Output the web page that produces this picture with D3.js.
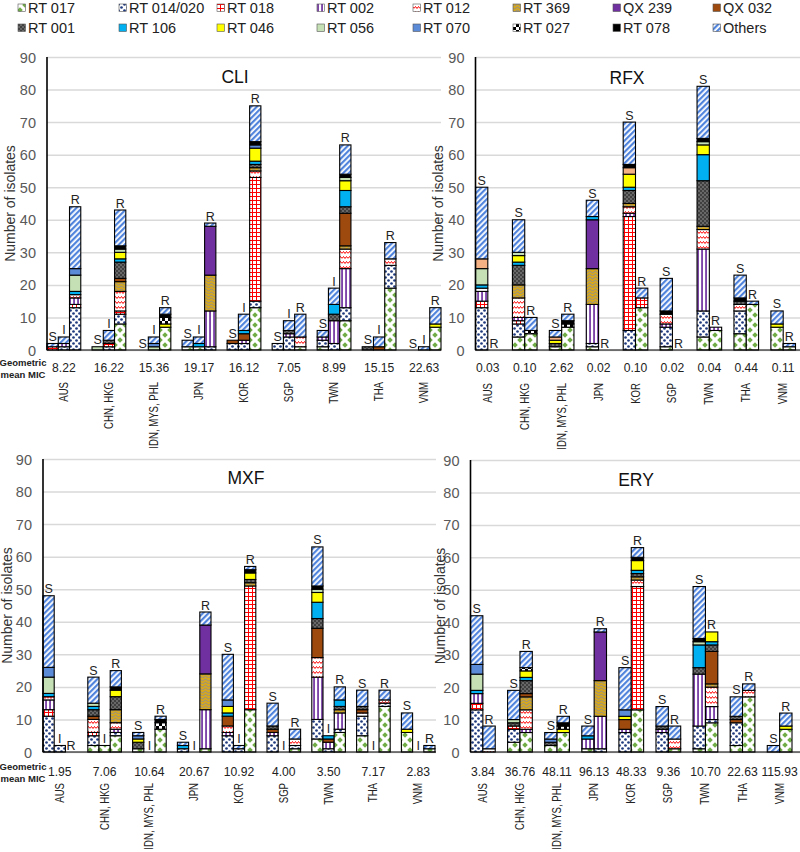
<!DOCTYPE html>
<html><head><meta charset="utf-8">
<script src="https://cdn.jsdelivr.net/npm/d3@7"></script>
<style>body{margin:0;background:#fff}svg{display:block;font-family:"Liberation Sans",Arial,sans-serif}</style>
</head><body><svg id="c" width="800" height="852"></svg>
<script>
// ---------- DATA ----------
const SERIES = ["RT 017","RT 014/020","RT 018","RT 002","RT 012","RT 369","QX 239","QX 032",
                "RT 001","RT 106","RT 046","RT 056","RT 070","RT 027","RT 078","Others"];
const COUNTRIES = ["AUS","CHN, HKG","IDN, MYS, PHL","JPN","KOR","SGP","TWN","THA","VNM"];
const Y_TICKS = [0,10,20,30,40,50,60,70,80,90];

const MIC_CLI = ["8.22","16.22","15.36","19.17","16.12","7.05","8.99","15.15","22.63"];
const MIC_RFX = ["0.03","0.10","2.62","0.02","0.10","0.02","0.04","0.44","0.11"];
const MIC_MXF = ["1.95","7.06","10.64","20.67","10.92","4.00","3.50","7.17","2.83"];
const MIC_ERY = ["3.84","36.76","48.11","96.13","48.33","9.36","10.70","22.63","115.93"];

// columns: 017 014 018 002 012 369 239 032 001 106 046 056 070 027 078 Others
const CLI_S = [
 [0,0,1,0,0,0,0,0,0,0,0,0,0,0,0,1],
 [0,0,0,0,0,0,0,0,0,0,0,1,0,0,0,0],
 [0,0,0,0,0,0,0,0,0,0,0,0,0,0,0,0],
 [1,0,0,0,0,0,0,0,0,0,0,0,0,0,0,2],
 [0,2,0,0,0,0,0,1,0,0,0,0,0,0,0,0],
 [0,2,0,0,0,0,0,0,0,0,0,0,0,0,0,0],
 [1,2,0,1,0,0,0,0,0,0,0,0,0,0,0,2],
 [0,0,0,0,0,0,0,0,1,0,0,0,0,0,0,0],
 [0,0,0,0,0,0,0,0,0,0,0,0,0,0,0,0]];
const CLI_I = [
 [0,1,0,1,0,0,0,0,0,0,0,0,0,0,0,2],
 [0,1,1,0,0,0,0,0,1,0,0,0,0,0,0,3],
 [0,0,0,0,0,0,0,0,0,0,0,1,1,0,0,2],
 [1,0,0,0,0,0,0,0,0,1,0,0,0,0,0,2],
 [0,2,0,1,0,0,0,2,0,1,0,0,0,0,0,5],
 [0,4,0,1,0,0,0,0,1,0,0,0,0,0,0,3],
 [0,2,0,7,0,0,0,0,2,3,0,0,0,0,0,5],
 [0,0,0,0,0,0,0,1,0,0,0,0,0,0,0,3],
 [0,0,0,0,0,0,0,0,0,0,0,0,0,0,0,1]];
const CLI_R = [
 [0,13,1,2,1,0,0,0,0,1,0,5,2,0,0,19],
 [8,3,1,0,6,3,0,1,5,1,2,1,0,0,1,11],
 [7,0,0,0,0,0,0,0,0,0,1,0,0,2,1,2],
 [0,1,0,11,0,11,15,0,0,0,0,0,0,0,0,1],
 [13,2,38,0,2,1,0,0,1,1,4,0,1,0,1,11],
 [1,0,0,0,3,0,0,0,0,0,0,0,0,0,0,7],
 [9,4,0,12,6,1,0,10,2,5,3,1,0,0,1,9],
 [19,7,0,0,2,0,0,0,0,0,0,0,0,0,0,5],
 [7,0,0,0,0,0,0,0,0,0,1,0,0,0,0,5]];

const RFX_S = [
 [0,13,2,3,1,0,0,0,0,1,0,5,3,0,0,22],
 [4,4,1,1,6,4,0,0,6,1,2,1,0,0,0,10],
 [1,0,0,0,0,0,0,0,1,0,1,0,1,0,0,2],
 [1,1,0,12,0,11,15,0,0,1,0,0,0,0,0,5],
 [0,6,35,1,2,1,0,0,4,1,4,0,2,0,1,13],
 [1,6,0,1,3,0,0,0,0,0,0,0,0,0,1,10],
 [4,8,0,19,6,1,0,0,14,8,3,1,0,0,1,16],
 [5,7,0,0,2,0,0,0,1,0,0,0,0,0,1,7],
 [7,0,0,0,0,0,0,0,0,0,1,0,0,0,0,4]];
const RFX_R = [
 [0,0,0,0,0,0,0,0,0,0,0,0,0,0,0,0],
 [5,0,0,0,0,0,0,0,0,0,0,0,0,1,0,4],
 [7,0,0,0,0,0,0,0,0,0,0,0,0,1,1,2],
 [0,0,0,0,0,0,0,0,0,0,0,0,0,0,0,0],
 [13,0,3,0,0,0,0,0,0,0,0,0,0,0,0,3],
 [0,0,0,0,0,0,0,0,0,0,0,0,0,0,0,0],
 [6,0,0,1,0,0,0,0,0,0,0,0,0,0,0,0],
 [14,0,0,0,0,0,0,0,0,0,0,0,0,0,0,1],
 [1,0,0,0,0,0,0,0,0,0,0,0,0,0,0,1]];

const MXF_S = [
 [0,11,2,3,1,0,0,0,0,1,0,5,3,0,0,22],
 [2,3,1,0,4,0,0,1,2,1,0,1,0,0,0,8],
 [1,0,0,0,0,0,0,0,2,0,1,0,1,0,0,1],
 [0,1,0,0,0,0,0,0,0,1,0,0,0,0,0,1],
 [0,5,0,1,2,0,0,3,0,1,2,0,2,0,0,14],
 [0,5,0,1,0,0,0,1,1,0,0,0,0,0,0,7],
 [4,6,0,13,6,0,0,9,3,5,3,1,0,0,1,12],
 [5,6,0,0,1,0,0,1,1,0,0,0,0,0,0,5],
 [6,0,0,0,0,0,0,0,0,0,1,0,0,0,0,5]];
const MXF_I = [
 [0,2,0,0,0,0,0,0,0,0,0,0,0,0,0,0],
 [2,0,0,0,0,0,0,0,0,0,0,0,0,0,0,0],
 [0,0,0,0,0,0,0,0,0,0,0,0,0,0,0,0],
 [0,0,0,0,0,0,0,0,0,0,0,0,0,0,0,0],
 [0,1,0,0,0,0,0,0,0,0,0,0,0,0,0,1],
 [0,0,0,0,0,0,0,0,0,0,0,0,0,0,0,0],
 [0,1,0,2,0,0,0,1,0,1,0,0,0,0,0,0],
 [0,0,0,0,0,0,0,0,0,0,0,0,0,0,0,0],
 [0,0,0,0,0,0,0,0,0,0,0,0,0,0,0,0]];
const MXF_R = [
 [0,0,0,0,0,0,0,0,0,0,0,0,0,0,0,0],
 [5,1,0,1,2,4,0,0,4,0,2,0,0,0,1,5],
 [7,0,0,0,0,0,0,0,0,0,0,0,0,2,1,1],
 [1,0,0,12,0,11,15,0,0,0,0,0,0,0,0,4],
 [13,0,38,0,0,1,0,0,1,0,2,0,0,0,1,1],
 [1,1,0,0,2,0,0,0,0,0,0,0,0,0,0,3],
 [6,1,0,5,0,1,0,0,1,2,0,0,0,0,0,4],
 [14,1,0,0,1,0,0,0,0,0,0,0,0,0,0,3],
 [1,0,0,0,0,0,0,0,0,0,0,0,0,0,0,1]];

const ERY_S = [
 [0,13,2,3,0,0,0,0,0,1,0,5,3,0,0,15],
 [3,4,1,0,0,0,0,0,1,0,0,1,0,0,0,9],
 [2,0,0,0,0,0,0,0,1,0,0,0,1,0,0,2],
 [1,0,0,3,0,0,0,0,0,1,0,0,0,0,0,3],
 [0,6,0,1,0,0,0,3,0,0,1,0,2,0,0,13],
 [0,6,0,1,0,0,0,0,1,0,0,0,0,0,0,6],
 [1,7,0,16,0,0,0,0,2,7,0,1,0,0,1,16],
 [2,7,0,0,0,0,0,1,1,0,0,0,0,0,0,6],
 [0,0,0,0,0,0,0,0,0,0,0,0,0,0,0,2]];
const ERY_R = [
 [0,0,0,0,1,0,0,0,0,0,0,0,0,0,0,7],
 [6,0,0,1,6,4,0,1,4,1,2,0,0,1,0,5],
 [6,0,0,0,0,0,0,0,0,0,1,0,0,1,1,2],
 [0,1,0,10,0,11,15,0,0,0,0,0,0,0,0,1],
 [13,0,38,0,2,1,0,0,1,1,3,0,0,0,1,3],
 [1,0,0,0,3,0,0,0,0,0,0,0,0,0,0,4],
 [9,1,0,4,6,1,0,10,2,1,3,0,0,0,0,0],
 [17,0,0,0,2,0,0,0,0,0,0,0,0,0,0,2],
 [7,0,0,0,0,0,0,0,0,0,1,0,0,0,0,4]];

// ---------- DRAWING ----------
const svg = d3.select("#c");
const defs = svg.append("defs");
const FONT = '"Liberation Sans",Arial,sans-serif';

function pat(id, w, h, bg, draw, transform) {
  const p = defs.append("pattern").attr("id", id).attr("patternUnits", "userSpaceOnUse")
    .attr("width", w).attr("height", h);
  if (transform) p.attr("patternTransform", transform);
  p.append("rect").attr("width", w).attr("height", h).attr("fill", bg);
  draw(p);
}
pat("p0", 10, 10, "#fff", p => {
  const dia = (cx, cy) => `M${cx},${cy-2.8}L${cx+2.8},${cy}L${cx},${cy+2.8}L${cx-2.8},${cy}Z`;
  p.append("path").attr("d", [dia(5,5),dia(0,0),dia(10,0),dia(0,10),dia(10,10)].join("")).attr("fill", "#70ad47");
});
pat("p1", 6, 6, "#fff", p => {
  p.append("circle").attr("cx",1.5).attr("cy",1.5).attr("r",1.35).attr("fill","#1f3a7d");
  p.append("circle").attr("cx",4.5).attr("cy",4.5).attr("r",1.35).attr("fill","#1f3a7d");
});
pat("p2", 4, 4, "#fff", p => {
  p.append("path").attr("d","M0,0.5H4M0.5,0V4").attr("stroke","#ff0000").attr("stroke-width",1);
});
pat("p3", 4, 4, "#fff", p => {
  p.append("rect").attr("x",1.2).attr("width",1.7).attr("height",4).attr("fill","#7030a0");
});
pat("p4", 6, 5, "#fff", p => {
  p.append("path").attr("d","M0,3.5L1.5,1.5L3,3.5L4.5,1.5L6,3.5").attr("fill","none")
    .attr("stroke","#ff0000").attr("stroke-width",1);
});
pat("p5", 6, 6, "#d9a91c", p => {
  p.append("path").attr("d","M0,2Q1.5,0 3,2T6,2M0,5Q1.5,3 3,5T6,5").attr("fill","none")
    .attr("stroke","#7d86a8").attr("stroke-width",0.8);
});
pat("p8", 4, 4, "#404040", p => {
  p.append("circle").attr("cx",1).attr("cy",1).attr("r",0.7).attr("fill","#b0b0b0");
  p.append("circle").attr("cx",3).attr("cy",3).attr("r",0.7).attr("fill","#b0b0b0");
});
pat("p13", 6, 6, "#fff", p => {
  p.append("rect").attr("width",3).attr("height",3).attr("fill","#000");
  p.append("rect").attr("x",3).attr("y",3).attr("width",3).attr("height",3).attr("fill","#000");
});
pat("p15", 4, 4, "#ffffff", p => {
  p.append("rect").attr("width",2.2).attr("height",4).attr("fill","#4f83dc");
}, "rotate(45)");

const FILLS = ["url(#p0)","url(#p1)","url(#p2)","url(#p3)","url(#p4)","url(#p5)","#7030a0","#9e4a0f",
               "url(#p8)","#00b0f0","#ffff00","#c5e0b4","#5b8ad6","url(#p13)","#000000","url(#p15)"];

// Legend
const legCols = [18,119,217,317,413,513,613,713];
const leg = svg.append("g");
SERIES.forEach((s, i) => {
  const col = i % 8, row = Math.floor(i / 8);
  const gx = legCols[col], gy = row ? 24 : 4;
  leg.append("rect").attr("x", gx).attr("y", gy).attr("width", 7.5).attr("height", 7.5)
    .attr("fill", FILLS[i]).attr("stroke", "#555").attr("stroke-width", 0.6);
  leg.append("text").attr("x", gx + 10).attr("y", gy + 8.5).attr("font-size", 14.5)
    .attr("fill", "#222").text(s);
});

function panel(cfg) {
  const g = svg.append("g");
  const y = d3.scaleLinear().domain([0, 90]).range([cfg.y0, cfg.y90]);
  const classes = cfg.classes;
  const x = d3.scaleBand().domain(COUNTRIES).range([cfg.x0, cfg.x0 + cfg.w])
    .paddingInner(1 / (classes.length + 1)).paddingOuter(0);
  const xc = d3.scaleBand().domain(classes).range([0, x.bandwidth()]);

  const gridEnd = Math.min(cfg.gridEnd, 800);
  const grid = g.append("g").attr("transform", `translate(${cfg.x0},0)`)
    .call(d3.axisLeft(y).tickValues(Y_TICKS).tickSize(-(gridEnd - cfg.x0)).tickFormat(""));
  grid.select(".domain").remove();
  grid.selectAll("line").attr("stroke", "#d9d9d9").attr("stroke-width", 1.5);

  const ax = g.append("g").attr("transform", `translate(${cfg.x0},0)`)
    .call(d3.axisLeft(y).tickValues(Y_TICKS).tickSize(0).tickPadding(11));
  ax.select(".domain").remove();
  ax.selectAll("text").attr("font-size", 14.5).attr("fill", "#595959").attr("font-family", FONT)
    .attr("dy", "0.35em");

  const stack = d3.stack().keys(d3.range(SERIES.length));
  classes.forEach(cl => {
    const rows = cfg.data[cl];
    const layers = stack(rows);
    layers.forEach((layer, si) => {
      const fill = (cfg.override && cfg.override[si]) || FILLS[si];
      layer.forEach((d, ci) => {
        if (d[1] - d[0] <= 0) return;
        g.append("rect")
          .attr("x", x(COUNTRIES[ci]) + xc(cl))
          .attr("y", y(d[1]))
          .attr("width", xc.bandwidth())
          .attr("height", y(d[0]) - y(d[1]))
          .attr("fill", fill).attr("stroke", "#000").attr("stroke-width", 1.1);
      });
    });
    rows.forEach((r, ci) => {
      const tot = d3.sum(r);
      g.append("text").attr("x", x(COUNTRIES[ci]) + xc(cl) + xc.bandwidth() / 2)
        .attr("y", y(tot) - 2.5).attr("text-anchor", "middle").attr("font-size", 12.5)
        .attr("fill", "#222").text(cl);
    });
  });

  g.append("line").attr("x1", cfg.x0).attr("x2", gridEnd).attr("y1", y(0)).attr("y2", y(0))
    .attr("stroke", "#000").attr("stroke-width", 1);
  g.append("line").attr("x1", cfg.x0).attr("x2", cfg.x0).attr("y1", y(0)).attr("y2", y(90))
    .attr("stroke", "#000").attr("stroke-width", 1.6);

  COUNTRIES.forEach((c, ci) => {
    const cx = x(c) + x.bandwidth() / 2;
    g.append("text").attr("transform", `translate(${cx},${cfg.micY}) scale(0.9,1)`)
      .attr("text-anchor", "middle").attr("font-size", 13.5).attr("fill", "#222").text(cfg.mic[ci]);
    g.append("text").attr("transform", `translate(${cx + 4},${cfg.labY}) rotate(-90) scale(0.8,1)`)
      .attr("text-anchor", "end").attr("font-size", 12).attr("fill", "#222").text(c);
  });
  if (cfg.micLabel) {
    const t = g.append("text").attr("text-anchor", "middle").attr("font-size", 9.5)
      .attr("font-weight", "bold").attr("fill", "#222");
    t.append("tspan").attr("x", 23).attr("y", cfg.micY - 6).text("Geometric");
    t.append("tspan").attr("x", 23).attr("y", cfg.micY + 6).text("mean MIC");
  }

  g.append("text").attr("x", cfg.titleX).attr("y", cfg.titleY).attr("text-anchor", "middle")
    .attr("font-size", 17.5).attr("fill", "#111").text(cfg.title);
  g.append("text").attr("transform", `translate(${cfg.yTitleX},${(cfg.y0 + cfg.y90) / 2}) rotate(-90)`)
    .attr("text-anchor", "middle").attr("font-size", 14).attr("fill", "#333")
    .text("Number of isolates");
}

panel({title:"CLI", classes:["S","I","R"], data:{S:CLI_S, I:CLI_I, R:CLI_R}, mic:MIC_CLI,
  x0:47, w:394, gridEnd:441, y0:350, y90:57, micY:372, labY:382, micLabel:true,
  titleX:235, titleY:83, yTitleX:15});
panel({title:"RFX", classes:["S","R"], data:{S:RFX_S, R:RFX_R}, mic:MIC_RFX,
  x0:475.5, w:320, gridEnd:800, y0:350, y90:57, micY:372, labY:383, micLabel:false,
  titleX:627, titleY:84, yTitleX:443, override:{12:"#f4b183"}});
panel({title:"MXF", classes:["S","I","R"], data:{S:MXF_S, I:MXF_I, R:MXF_R}, mic:MIC_MXF,
  x0:43, w:392, gridEnd:436, y0:752, y90:459, micY:776, labY:783, micLabel:true,
  titleX:246, titleY:484, yTitleX:12});
panel({title:"ERY", classes:["S","R"], data:{S:ERY_S, R:ERY_R}, mic:MIC_ERY,
  x0:470.5, w:321.5, gridEnd:800, y0:752, y90:460, micY:776, labY:783, micLabel:false,
  titleX:636, titleY:486, yTitleX:445});
</script></body></html>
